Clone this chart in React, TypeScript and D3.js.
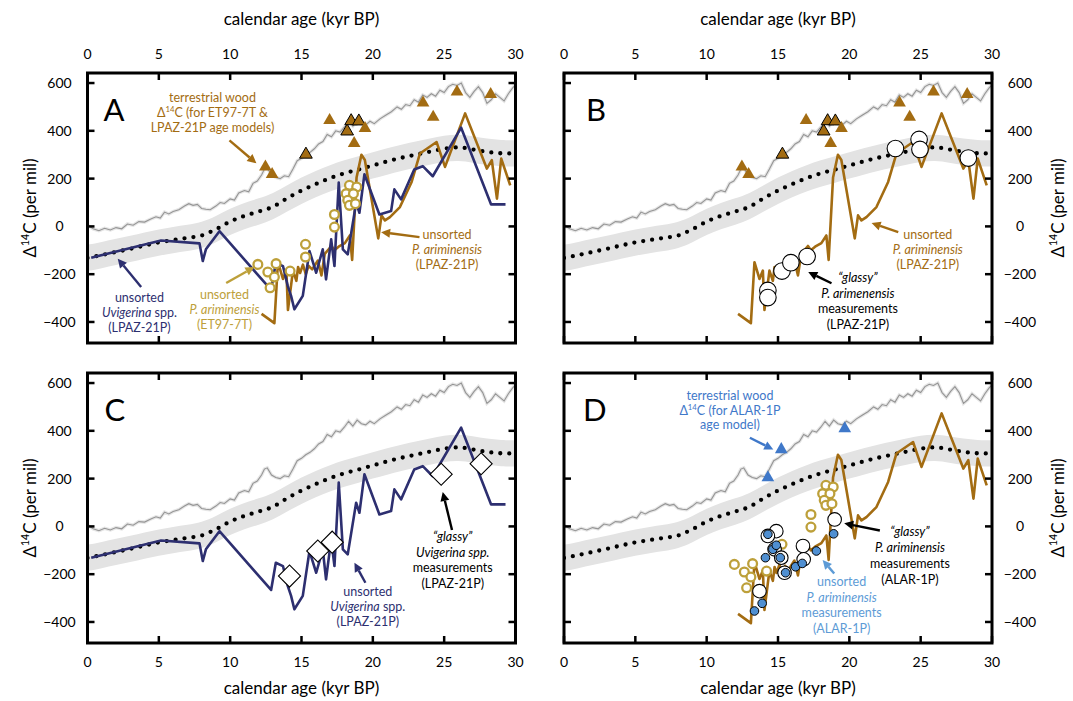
import React from "react";
import * as d3 from "d3";

type Pt = [number, number];

// atmospheric (terrestrial) D14C record, kyr BP vs per mil
const atmosphere: Pt[] = [
  [0, 5], [0.4, -10], [0.8, -18], [1.2, -8], [1.6, -15], [2, -5], [2.4, -10], [2.8, 10], [3.2, 5], [3.6, 20],
  [4, 18], [4.4, 30], [4.8, 40], [5.1, 35], [5.4, 60], [5.7, 52], [6, 62], [6.4, 70], [6.8, 85], [7.1, 95],
  [7.4, 88], [7.7, 92], [8, 75], [8.3, 72], [8.6, 70], [9, 85], [9.3, 100], [9.6, 96], [10, 115], [10.3, 110],
  [10.6, 140], [11, 150], [11.3, 145], [11.6, 180], [11.9, 190], [12.2, 215], [12.4, 240], [12.6, 245], [12.9, 215],
  [13.2, 205], [13.5, 200], [13.8, 212], [14.1, 208], [14.4, 240], [14.7, 275], [15, 285], [15.3, 300], [15.6, 310],
  [15.9, 325], [16.2, 345], [16.5, 355], [16.8, 385], [17.1, 375], [17.4, 400], [17.7, 395], [18, 415], [18.3, 440],
  [18.6, 420], [18.9, 445], [19.2, 430], [19.5, 425], [19.8, 440], [20.1, 430], [20.5, 450], [20.9, 465], [21.3, 480],
  [21.7, 500], [22, 490], [22.3, 510], [22.6, 505], [22.9, 530], [23.2, 520], [23.5, 550], [23.8, 540], [24.1, 555],
  [24.4, 545], [24.7, 570], [25, 560], [25.3, 585], [25.6, 595], [25.9, 590], [26.2, 600], [26.5, 560], [26.8, 540],
  [27.1, 565], [27.4, 585], [27.7, 560], [28, 515], [28.3, 530], [28.6, 555], [28.9, 540], [29.2, 525], [29.5, 555],
  [29.8, 580], [30, 592],
];

// reference (dotted) curve and its half-width
const reference: Pt[] = [
  [0, -132], [1, -120], [2, -107], [3, -94], [4, -80], [5, -67], [6, -57], [7, -48], [8, -38], [9, -12],
  [10, 20], [11, 44], [12, 62], [13, 82], [14, 118], [15, 150], [16, 177], [17, 202], [18, 222], [19, 238],
  [20, 255], [21, 272], [22, 287], [23, 300], [24, 313], [25, 325], [26, 331], [27, 322], [28, 312], [29, 306], [30, 305],
];
const referenceUnc = 55;

// unsorted Uvigerina spp. (LPAZ-21P)
const uvigerina: Pt[] = [
  [0.26, -131], [5.16, -59], [7.85, -71], [8.08, -145], [8.3, -96], [9.25, -20], [12.87, -266], [13.2, -152],
  [13.7, -166], [14.04, -250], [14.27, -291], [14.5, -347], [15.09, -291], [15.56, -103], [16.03, -194], [16.49, -96],
  [16.72, -222], [17.08, -54], [17.31, -166], [17.61, 183], [17.9, -96], [18.24, -117], [18.83, 99], [19.06, 57],
  [19.41, 218], [20.46, 50], [21.28, 64], [21.51, 155], [21.98, 113], [22.9, 238], [23.5, 252], [24.2, 210],
  [26.19, 413], [28.29, 92], [29.3, 92],
];

// unsorted P. ariminensis (LPAZ-21P)
const ariminensis: Pt[] = [
  [12.2, -366], [13.1, -405], [13.35, -150], [13.7, -220], [13.94, -185], [14.05, -350], [14.4, -185], [14.64, -228],
  [14.76, -170], [14.9, -195], [15.1, -160], [15.3, -200], [15.5, -165], [15.75, -180], [16.15, -143], [16.4, -205],
  [16.63, -115], [17.1, -82], [17.3, -100], [17.6, -85], [18.04, -70], [18.39, -38], [18.55, -140], [18.86, 205],
  [19.2, 300], [19.44, 278], [20.38, -50], [20.61, 46], [20.85, 25], [21.2, 39], [21.9, 81], [22.72, 186],
  [23.3, 305], [24.47, 353], [25.06, 249], [26.47, 473], [27.99, 242], [28.34, 277], [28.7, 116], [29.0, 284], [29.63, 172],
];

// unsorted P. ariminensis (ET97-7T)
const et97: Pt[] = [
  [11.94, -159], [12.64, -191], [13.22, -156], [13.1, -212], [12.8, -257], [14.2, -187], [15.28, -75], [15.28, -128],
  [17.31, 50], [17.31, -3], [18.36, 172], [18.87, 165], [18.13, 137], [18.64, 137], [18.24, 109], [18.36, 88], [18.78, 95],
];

// terrestrial wood used for ET97-7T & LPAZ-21P age models (outlined = 1)
const woodAge = [12.47, 12.94, 15.31, 16.97, 18.2, 18.48, 19.02, 19.45, 18.69, 23.52, 24.23, 25.9, 28.26];
const woodD14C = [249, 218, 301, 444, 398, 441, 440, 410, 348, 517, 457, 563, 553];
const woodOutlined = [0, 0, 1, 0, 1, 1, 1, 0, 0, 0, 0, 0, 0];

// "glassy" P. arimenensis (LPAZ-21P)
const glassyAri: Pt[] = [
  [14.29, -268], [14.29, -298], [15.28, -187], [15.9, -152], [17.04, -126], [23.23, 326], [24.89, 364], [24.95, 322], [28.34, 286],
];

// "glassy" Uvigerina spp. (LPAZ-21P)
const glassyUvi: Pt[] = [[14.16, -208], [16.14, -103], [17.15, -66], [24.79, 218], [27.59, 262]];

// ALAR-1P
const alarWood: Pt[] = [[15.23, 322], [14.29, 204], [19.68, 409]];
const alarGlassy: Pt[] = [
  [14.88, -20], [14.29, -40], [14.76, -96], [15.23, -131], [15.46, -194], [16.75, -82], [16.8, -138], [13.7, -271], [18.97, 29],
];
const alarUnsorted: Pt[] = [
  [13.35, -354], [13.89, -322], [14.12, -131], [14.29, -33], [14.64, -96], [14.88, -79], [15.16, -131], [15.53, -194],
  [16.23, -169], [16.7, -155], [17.69, -103], [18.9, -31],
];

const xTicks = [0, 5, 10, 15, 20, 25, 30];
const yTicks = [-400, -200, 0, 200, 400, 600];

const NAVY = "#2d2f70";
const BROWN = "#a36c12";
const OLIVE = "#bda03a";
const WOODBLUE = "#3f78c9";
const DOTBLUE = "#4f8fd1";
const LIGHTBLUE = "#5d9bd6";
const FONT = "Lato, 'Open Sans', sans-serif";

const annotations = [
  { panel: "A", color: BROWN, at: [8.76, 519], gap: 15, lines: ["terrestrial wood", "Δ^14^C (for ET97-7T &", "LPAZ-21P age models)"], arrow: [[9.95, 360], [11.84, 264]] },
  { panel: "A", color: BROWN, at: [25.2, -54], gap: 15, lines: ["unsorted", "*P. ariminensis*", "(LPAZ-21P)"], arrow: [[23.27, -45], [20.58, -24]] },
  { panel: "A", color: NAVY, at: [3.64, -318], gap: 15, lines: ["unsorted", "*Uvigerina* spp.", "(LPAZ-21P)"], arrow: [[3.76, -254], [2.12, -135]] },
  { panel: "A", color: OLIVE, at: [9.6, -305], gap: 15, lines: ["unsorted", "*P. ariminensis*", "(ET97-7T)"], arrow: [[9.72, -237], [11.7, -170]] },
  { panel: "B", color: "#000", at: [20.6, -234], gap: 15.5, lines: ["*“glassy”*", "*P. arimenensis*", "measurements", "(LPAZ-21P)"], arrow: [[18.75, -238], [17.12, -191]] },
  { panel: "B", color: BROWN, at: [25.5, -54], gap: 15, lines: ["unsorted", "*P. ariminensis*", "(LPAZ-21P)"], arrow: [[23.43, -24], [21.56, 14]] },
  { panel: "C", color: NAVY, at: [19.65, -293], gap: 15, lines: ["unsorted", "*Uvigerina* spp.", "(LPAZ-21P)"], arrow: [[19.48, -236], [18.71, -152]] },
  { panel: "C", color: "#000", at: [25.6, -63], gap: 15.5, lines: ["*“glassy”*", "*Uvigerina spp.*", "measurements", "(LPAZ-21P)"], arrow: [[25.55, -15], [24.9, 144]] },
  { panel: "D", color: WOODBLUE, at: [11.63, 527], gap: 14.5, lines: ["terrestrial wood", "Δ^14^C (for ALAR-1P", "age model)"], arrow: [[13.03, 371], [14.67, 322]] },
  { panel: "D", color: "#000", at: [24.25, -42], gap: 16, lines: ["*“glassy”*", "*P. ariminensis*", "measurements", "(ALAR-1P)"], arrow: [[22.14, -17], [19.64, 13]] },
  { panel: "D", color: LIGHTBLUE, at: [19.46, -251], gap: 15.5, lines: ["unsorted", "*P. ariminensis*", "measurements", "(ALAR-1P)"], arrow: [[18.94, -197], [18.13, -141]] },
];

const PW = 428;
const PH = 270;

function Rich({ s, size }: { s: string; size: number }) {
  const parts = s.split(/(\*[^*]+\*|\^[^^]+\^)/).filter((p) => p.length > 0);
  let cur = 0;
  return (
    <>
      {parts.map((p, i) => {
        let target = 0;
        let txt = p;
        let fs: number | undefined;
        let it: string | undefined;
        if (p[0] === "^") {
          target = -size * 0.4;
          txt = p.slice(1, -1);
          fs = size * 0.62;
        } else if (p[0] === "*") {
          txt = p.slice(1, -1);
          it = "italic";
        }
        const dy = target - cur;
        cur = target;
        return (
          <tspan key={i} dy={dy} fontSize={fs} fontStyle={it}>
            {txt}
          </tspan>
        );
      })}
    </>
  );
}

function Arrow({ x1, y1, x2, y2, color }: { x1: number; y1: number; x2: number; y2: number; color: string }) {
  const a = Math.atan2(y2 - y1, x2 - x1);
  const L = 9, w = 4.5;
  const bx = x2 - L * Math.cos(a), by = y2 - L * Math.sin(a);
  const pts = [
    [x2, y2],
    [bx + w * Math.sin(a), by - w * Math.cos(a)],
    [bx - w * Math.sin(a), by + w * Math.cos(a)],
  ];
  return (
    <g>
      <line x1={x1} y1={y1} x2={bx} y2={by} stroke={color} strokeWidth={2.4} />
      <polygon points={pts.map((p) => p.join(",")).join(" ")} fill={color} />
    </g>
  );
}

function Panel({ id, left, top, letterDx, xSide, ySide }: { id: string; left: number; top: number; letterDx: number; xSide: "top" | "bottom"; ySide: "left" | "right" }) {
  const x = d3.scaleLinear().domain([0, 30]).range([left, left + PW]);
  const y = d3.scaleLinear().domain([-488, 642]).range([top + PH, top]);
  const line = d3.line<Pt>().x((d) => x(d[0])).y((d) => y(d[1]));
  const band = d3.area<Pt>().x((d) => x(d[0])).y0((d) => y(d[1] - referenceUnc)).y1((d) => y(d[1] + referenceUnc)).curve(d3.curveBasis);
  const smooth = d3.line<Pt>().x((d) => x(d[0])).y((d) => y(d[1])).curve(d3.curveMonotoneX);
  const tri = d3.symbol(d3.symbolTriangle, 70)();
  const right = left + PW, bottom = top + PH;
  const clipId = "clip" + id;

  const showNavy = id === "A" || id === "C";
  const showOrange = id !== "C";
  const showOlive = id === "A" || id === "D";
  const showWood = id === "A" || id === "B";

  return (
    <g>
      <defs>
        <clipPath id={clipId}>
          <rect x={left} y={top} width={PW} height={PH} />
        </clipPath>
      </defs>
      <g clipPath={`url(#${clipId})`}>
        <path d={band(reference) ?? ""} fill="#e3e3e3" />
        <path d={line(atmosphere) ?? ""} fill="none" stroke="#e6e6e6" strokeWidth={3.5} />
        <path d={line(atmosphere) ?? ""} fill="none" stroke="#959595" strokeWidth={1.1} />
        <path d={smooth(reference) ?? ""} fill="none" stroke="#000" strokeWidth={4.3} strokeLinecap="round" strokeDasharray="0 9" />
        {showOrange && <path d={line(ariminensis) ?? ""} fill="none" stroke={BROWN} strokeWidth={2.6} strokeLinejoin="round" />}
        {showNavy && <path d={line(uvigerina) ?? ""} fill="none" stroke={NAVY} strokeWidth={2.6} strokeLinejoin="round" />}
        {showWood &&
          woodAge.map((a, i) => (
            <path key={"w" + i} d={tri ?? ""} transform={`translate(${x(a)},${y(woodD14C[i])})`} fill={BROWN} stroke={woodOutlined[i] ? "#000" : "none"} strokeWidth={1} />
          ))}
        {showOlive &&
          et97.map((d, i) => <circle key={"o" + i} cx={x(d[0])} cy={y(d[1])} r={4.4} fill="#fff" stroke={OLIVE} strokeWidth={2.3} />)}
        {id === "B" &&
          glassyAri.map((d, i) => <circle key={"g" + i} cx={x(d[0])} cy={y(d[1])} r={8.3} fill="#fff" stroke="#000" strokeWidth={1.1} />)}
        {id === "C" &&
          glassyUvi.map((d, i) => (
            <rect key={"d" + i} x={-7.8} y={-7.8} width={15.6} height={15.6} transform={`translate(${x(d[0])},${y(d[1])}) rotate(45)`} fill="#fff" stroke="#000" strokeWidth={1.1} />
          ))}
        {id === "D" && (
          <>
            {alarWood.map((d, i) => (
              <path key={"aw" + i} d={tri ?? ""} transform={`translate(${x(d[0])},${y(d[1])})`} fill={WOODBLUE} />
            ))}
            {alarGlassy.map((d, i) => <circle key={"ag" + i} cx={x(d[0])} cy={y(d[1])} r={6.8} fill="#fff" stroke="#000" strokeWidth={1.1} />)}
            {alarUnsorted.map((d, i) => <circle key={"au" + i} cx={x(d[0])} cy={y(d[1])} r={4.3} fill={DOTBLUE} stroke="#000" strokeWidth={1} />)}
          </>
        )}
      </g>

      {annotations
        .filter((a) => a.panel === id)
        .map((a, k) => (
          <g key={"a" + k}>
            <text x={x(a.at[0])} y={y(a.at[1])} textAnchor="middle" fill={a.color} fontSize={12.5} fontFamily={FONT}>
              {a.lines.map((l, i) => (
                <tspan key={i} x={x(a.at[0])} y={y(a.at[1]) + i * a.gap}>
                  <Rich s={l} size={12.5} />
                </tspan>
              ))}
            </text>
            <Arrow x1={x(a.arrow[0][0])} y1={y(a.arrow[0][1])} x2={x(a.arrow[1][0])} y2={y(a.arrow[1][1])} color={a.color} />
          </g>
        ))}

      <text x={left + letterDx} y={top + 48} fontSize={31} fontFamily={FONT} fill="#000">
        {id}
      </text>

      {/* frame and inward ticks */}
      <rect x={left} y={top} width={PW} height={PH} fill="none" stroke="#000" strokeWidth={3} />
      {xTicks.map((t) => (
        <g key={"xt" + t}>
          <line x1={x(t)} x2={x(t)} y1={top} y2={top + 7} stroke="#000" strokeWidth={2.5} />
          <line x1={x(t)} x2={x(t)} y1={bottom} y2={bottom - 7} stroke="#000" strokeWidth={2.5} />
          <text x={x(t)} y={xSide === "top" ? top - 14 : bottom + 24} textAnchor="middle" fontSize={14} fontFamily={FONT}>
            {t}
          </text>
        </g>
      ))}
      {yTicks.map((t) => (
        <g key={"yt" + t}>
          <line x1={left} x2={left + 7} y1={y(t)} y2={y(t)} stroke="#000" strokeWidth={2.5} />
          <line x1={right} x2={right - 7} y1={y(t)} y2={y(t)} stroke="#000" strokeWidth={2.5} />
          <text x={ySide === "left" ? left - 28 : right + 28} y={y(t)} dy="0.35em" textAnchor="middle" fontSize={14} fontFamily={FONT}>
            {t < 0 ? "\u2212" + Math.abs(t) : t}
          </text>
        </g>
      ))}
      <text x={(left + right) / 2} y={xSide === "top" ? top - 48 : bottom + 51} textAnchor="middle" fontSize={17} fontFamily={FONT}>
        calendar age (kyr BP)
      </text>
      <text
        transform={`translate(${ySide === "left" ? 36 : 1064},${(top + bottom) / 2}) rotate(-90)`}
        textAnchor="middle"
        fontSize={17}
        fontFamily={FONT}
      >
        <Rich s="Δ^14^C (per mil)" size={17} />
      </text>
    </g>
  );
}

export default function App() {
  return (
    <svg width={1073} height={701} style={{ position: "absolute", left: 0, top: 0, background: "#fff" }}>
      <Panel id="A" left={87.5} top={73} letterDx={16} xSide="top" ySide="left" />
      <Panel id="B" left={564} top={73} letterDx={22} xSide="top" ySide="right" />
      <Panel id="C" left={87.5} top={373} letterDx={17} xSide="bottom" ySide="left" />
      <Panel id="D" left={564} top={373} letterDx={19} xSide="bottom" ySide="right" />
    </svg>
  );
}
